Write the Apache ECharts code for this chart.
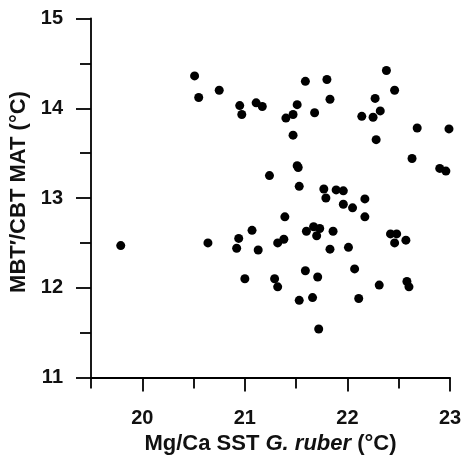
<!DOCTYPE html>
<html>
<head>
<meta charset="utf-8">
<script src="https://cdn.jsdelivr.net/npm/echarts@6/dist/echarts.min.js"></script>
<style>
html,body{margin:0;padding:0;background:#fff;}
#chart{width:464px;height:457px;}
</style>
</head>
<body>
<div id="chart"></div>
<script>
// Mg/Ca SST G. ruber (°C)
var sstValues = [
20.51,20.55,20.75,20.95,20.97,21.11,21.17,21.24,21.59,21.80,
22.38,22.46,21.51,21.83,22.27,21.40,21.47,21.68,22.14,22.25,
22.32,21.47,22.28,22.68,22.99,21.51,21.52,22.63,22.90,22.96,
21.53,21.77,21.89,21.96,21.79,22.17,21.96,22.05,22.17,21.39,
21.67,21.73,21.70,21.60,21.86,22.42,22.48,22.46,22.57,21.38,
21.32,21.83,22.01,21.59,21.71,22.07,21.29,21.32,22.31,22.58,
22.60,21.53,21.66,22.11,21.72,19.79,20.64,20.94,20.92,21.07,
21.13,21.00
];
// MBT'/CBT MAT (°C)
var matValues = [
14.36,14.12,14.20,14.03,13.93,14.06,14.02,13.25,14.30,14.32,
14.42,14.20,14.04,14.10,14.11,13.89,13.93,13.95,13.91,13.90,
13.97,13.70,13.65,13.78,13.77,13.36,13.34,13.44,13.33,13.30,
13.13,13.10,13.09,13.08,13.00,12.99,12.93,12.89,12.79,12.79,
12.68,12.66,12.58,12.63,12.63,12.60,12.60,12.50,12.53,12.54,
12.50,12.43,12.45,12.19,12.12,12.21,12.10,12.01,12.03,12.07,
12.01,11.86,11.89,11.88,11.54,12.47,12.50,12.55,12.44,12.64,
12.42,12.10
];
var xMajorTicks = [20, 21, 22, 23];
var xMinorTicks = [19.5, 20.5, 21.5, 22.5];
var yMajorTicks = [11, 12, 13, 14, 15];
var yMinorTicks = [11.5, 12.5, 13.5, 14.5];

var points = sstValues.map(function (x, i) { return [x, matValues[i]]; });

var FONT = '"Liberation Sans", Arial, sans-serif';
var lineStyle = { color: '#000', width: 1.8 };

var chart = echarts.init(document.getElementById('chart'), null, { renderer: 'canvas' });
chart.setOption({
  animation: false,
  backgroundColor: '#fff',
  grid: { left: 91, right: 14, top: 18.5, bottom: 79.5, containLabel: false, outerBoundsMode: 'none' },
  xAxis: [{
    type: 'value', min: 19.5, max: 23, position: 'bottom',
    axisLine: { show: true, onZero: false, lineStyle: lineStyle },
    axisTick: { show: true, length: 14, inside: false, customValues: xMajorTicks, lineStyle: lineStyle },
    axisLabel: { show: true, customValues: xMajorTicks, margin: 31, color: '#111',
      fontFamily: FONT, fontWeight: 'bold', fontSize: 20 },
    splitLine: { show: false },
    name: '{b|Mg/Ca SST }{i|G. ruber}{b| (°C)}',
    nameLocation: 'middle', nameGap: 54,
    nameTextStyle: {
      rich: {
        b: { fontFamily: FONT, fontWeight: 'bold', fontSize: 22, color: '#111' },
        i: { fontFamily: FONT, fontWeight: 'bold', fontStyle: 'italic', fontSize: 22, color: '#111' }
      }
    }
  }, {
    type: 'value', min: 19.5, max: 23, position: 'bottom',
    axisLine: { show: false, onZero: false },
    axisTick: { show: true, length: 11, customValues: xMinorTicks, lineStyle: lineStyle },
    axisLabel: { show: false },
    splitLine: { show: false }
  }],
  yAxis: [{
    type: 'value', min: 11, max: 15, position: 'left',
    axisLine: { show: true, onZero: false, lineStyle: lineStyle },
    axisTick: { show: true, length: 15, customValues: yMajorTicks, lineStyle: lineStyle },
    axisLabel: { show: true, customValues: yMajorTicks, margin: 28, color: '#111',
      fontFamily: FONT, fontWeight: 'bold', fontSize: 20 },
    splitLine: { show: false },
    name: 'MBT\u2032/CBT MAT (°C)',
    nameLocation: 'middle', nameGap: 58, nameRotate: 90,
    nameTextStyle: { fontFamily: FONT, fontWeight: 'bold', fontSize: 22, color: '#111',
      padding: [0, 0, 0, 12] }
  }, {
    type: 'value', min: 11, max: 15, position: 'left',
    axisLine: { show: false, onZero: false },
    axisTick: { show: true, length: 11, customValues: yMinorTicks, lineStyle: lineStyle },
    axisLabel: { show: false },
    splitLine: { show: false }
  }],
  series: [{
    type: 'scatter',
    xAxisIndex: 0, yAxisIndex: 0,
    data: points,
    symbol: 'circle',
    symbolSize: 9,
    itemStyle: { color: '#000', opacity: 1 },
    clip: false
  }]
});
</script>
</body>
</html>
